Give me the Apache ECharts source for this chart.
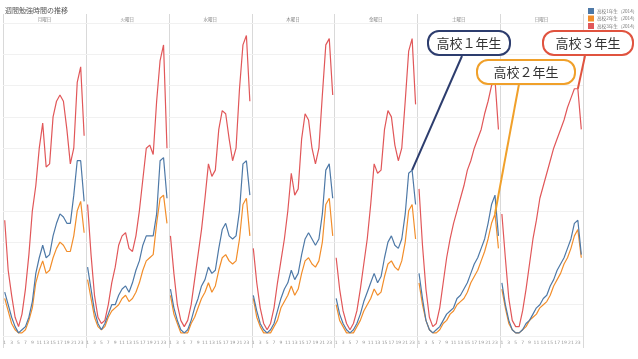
<!DOCTYPE html>
<html><head><meta charset="utf-8">
<script src="https://cdn.jsdelivr.net/npm/echarts@6/dist/echarts.min.js"></script>
<style>html,body{margin:0;padding:0;background:#fff}#c{width:638px;height:359px}</style>
</head><body><div id="c"></div>
<script>
const hours = ['1','2','3','4','5','6','7','8','9','10','11','12','13','14','15','16','17','18','19','20','21','22','23','24'];
const days = ['月曜日','火曜日','水曜日','木曜日','金曜日','土曜日','日曜日'];
const seriesNames = ['高校1年生（2014）','高校2年生（2014）','高校3年生（2014）'];
const colors = ['#4e79a7','#f28e2b','#e15759'];
const title = '週間勉強時間の推移';
const callouts = ['高校１年生','高校２年生','高校３年生'];

const grade1 = [
 [14,10,6,3,1,2,3,6,11,20,25,29,25,26,32,36,39,38,36,36,45,56,56,43],
 [22,15,8,4,2,4,7,10,10,13,15,16,14,17,21,24,29,32,32,32,39,56,57,44],
 [15,9,5,2,1,2,5,9,12,16,18,22,20,21,28,34,36,32,31,32,40,55,56,45],
 [13,8,4,2,1,2,4,8,12,15,17,21,18,20,26,31,33,31,29,31,39,53,55,44],
 [12,7,4,2,1,2,4,7,11,14,17,20,17,19,25,30,32,29,28,31,39,52,53,42],
 [20,12,5,2,1,2,3,5,7,8,9,12,13,15,17,20,23,25,28,31,36,42,45,32],
 [17,10,5,2,1,1,2,4,5,7,9,10,12,13,16,18,21,23,25,28,31,36,37,26]
];
const grade2 = [
 [12,8,4,2,1,1,2,5,9,17,21,24,20,21,25,28,30,29,27,27,32,40,43,33],
 [18,12,6,3,2,3,6,8,9,10,12,13,11,12,14,17,21,24,25,26,36,44,45,36],
 [13,7,4,1,1,1,4,6,9,12,14,17,14,16,21,25,26,24,23,24,31,42,44,32],
 [12,6,3,1,1,1,3,5,9,11,13,16,13,15,20,24,25,23,22,24,30,42,44,32],
 [10,5,3,1,1,1,3,5,8,10,12,15,13,14,19,23,24,22,21,24,30,40,42,31],
 [17,10,5,2,1,1,2,4,5,7,8,10,11,12,14,17,19,21,24,27,31,36,39,28],
 [15,9,4,2,1,1,2,3,5,6,7,9,10,11,13,16,18,20,23,25,28,32,34,25]
];
const grade3 = [
 [37,21,13,6,3,7,15,26,40,48,60,68,54,55,70,75,77,75,66,55,60,81,86,64],
 [42,26,13,6,4,5,10,17,22,29,32,33,28,27,32,40,50,60,61,58,75,88,93,60],
 [32,20,10,5,3,5,10,18,26,34,44,55,51,53,66,72,71,63,56,60,79,93,96,75],
 [28,17,9,4,2,4,9,17,24,31,40,52,45,47,63,71,69,60,55,60,77,93,95,77],
 [25,15,8,4,2,4,8,15,23,31,42,55,52,53,66,72,70,61,56,60,75,91,95,74],
 [47,29,15,6,3,4,9,17,25,31,36,40,44,48,53,56,60,63,66,71,75,80,82,66],
 [39,25,12,5,3,3,8,15,23,31,37,44,48,52,56,60,63,66,69,73,76,79,79,66]
];
const allData = [grade1, grade2, grade3];

const chart = echarts.init(document.getElementById('c'), null, {renderer:'canvas'});
const P0 = 3, PW = 82.86, TOP = 23, H = 313;
const grids = [], xAxes = [], yAxes = [], series = [];
days.forEach((d, p) => {
  grids.push({left: P0 + PW * p, top: TOP, width: PW, height: H, containLabel: false});
  xAxes.push({type:'category', gridIndex:p, data:hours, boundaryGap:true,
    axisLine:{show:false}, axisTick:{show:false},
    axisLabel:{interval:1, fontSize:4.5, color:'#999', margin:4, fontFamily:'DejaVu Sans'}});
  yAxes.push({type:'value', gridIndex:p, min:0, max:100, interval:10,
    axisLine:{show:false}, axisTick:{show:false}, axisLabel:{show:false},
    splitLine:{lineStyle:{color:'#f1f1f1', width:1}}});
  allData.forEach((g, s) => {
    series.push({type:'line', name:seriesNames[s], xAxisIndex:p, yAxisIndex:p,
      data:g[p], symbol:'none', smooth:false, animation:false,
      lineStyle:{color:colors[s], width:1.2}, itemStyle:{color:colors[s]}, z: 3 - s});
  });
});

const graphics = [];
for (let p = 0; p <= 7; p++) {
  const x = Math.round(P0 + PW * p) + 0.5;
  graphics.push({type:'line', shape:{x1:x, y1:14, x2:x, y2:348}, style:{stroke:'#d9d9d9', lineWidth:1}, silent:true});
}
graphics.push({type:'line', shape:{x1:P0, y1:23.5, x2:P0 + PW * 7, y2:23.5}, style:{stroke:'#dcdcdc', lineWidth:1}, silent:true});
days.forEach((d, p) => {
  graphics.push({type:'text', x: P0 + PW * (p + 0.5), y: 19, style:{text:d, fontSize:4.5, fill:'#888', align:'center', verticalAlign:'middle', fontFamily:'Noto Sans CJK JP'}, silent:true});
});
graphics.push({type:'text', x:5, y:10, style:{text:title, fontSize:7, fill:'#555', verticalAlign:'middle', fontFamily:'Noto Sans CJK JP'}});

chart.setOption({
  animation:false,
  legend:{data:seriesNames, orient:'vertical', left:583, top:3, itemWidth:6, itemHeight:6, itemGap:1.5, icon:'rect',
    textStyle:{fontSize:4.6, color:'#777', fontFamily:'Noto Sans CJK JP', padding:[0,0,0,-2]}},
  grid:grids, xAxis:xAxes, yAxis:yAxes, series:series, graphic:graphics
});

// callouts, anchored to data points via the axes
const boxes = [
  {x:428, y:31, w:82, h:24, color:'#2d3d6e', grade:0, panel:4, idx:22, from:[462,56]},
  {x:477, y:60, w:98, h:24, color:'#f0a02a', grade:1, panel:5, idx:22, from:[519,84]},
  {x:543, y:31, w:90, h:24, color:'#e0533f', grade:2, panel:6, idx:22, from:[585,56]}
];
boxes.forEach((b, k) => {
  const pt = chart.convertToPixel({gridIndex:b.panel}, [b.idx, allData[b.grade][b.panel][b.idx]]);
  graphics.push({type:'line', z:10, shape:{x1:b.from[0], y1:b.from[1], x2:pt[0], y2:pt[1]}, style:{stroke:b.color, lineWidth:2}});
  graphics.push({type:'rect', z:11, shape:{x:b.x, y:b.y, width:b.w, height:b.h, r:11}, style:{fill:'#fff', stroke:b.color, lineWidth:2}});
  graphics.push({type:'text', z:12, x:b.x + b.w/2, y:b.y + b.h/2, style:{text:callouts[k], fontSize:13, fill:'#333', align:'center', verticalAlign:'middle', fontFamily:'Noto Sans CJK JP'}});
});
chart.setOption({graphic:graphics});
</script></body></html>
